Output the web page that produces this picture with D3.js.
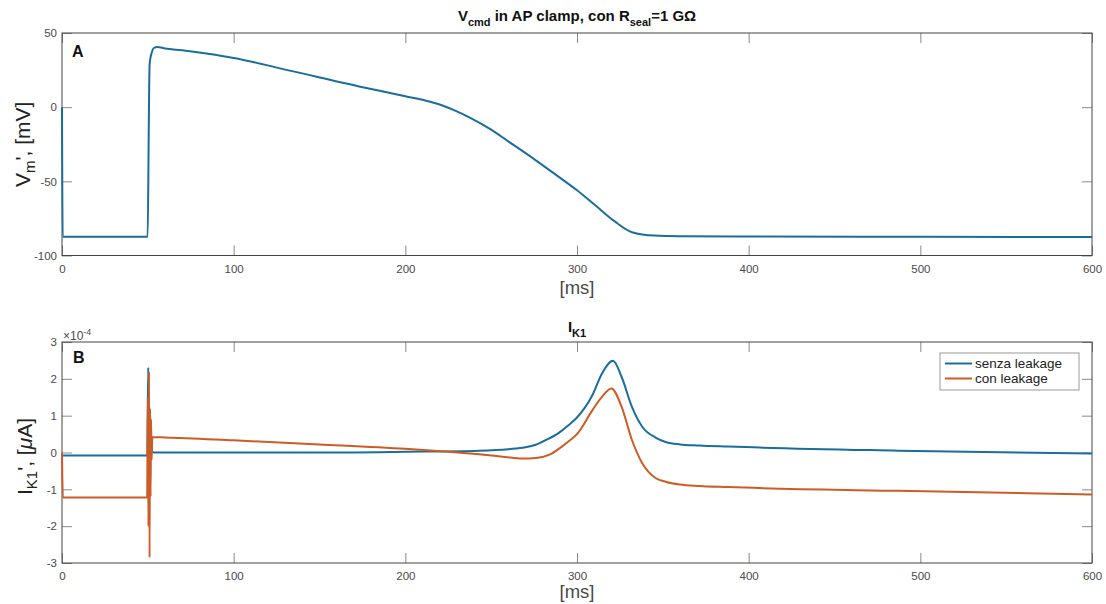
<!DOCTYPE html>
<html>
<head>
<meta charset="utf-8">
<script src="https://cdn.jsdelivr.net/npm/d3@7"></script>
<style>
    body { margin: 0; background: #ffffff; }
    svg { display: block; font-family: 'Liberation Sans', Arial, sans-serif; }
</style>
</head>
<body>
<svg id="chart" width="1106" height="604"></svg>
<script>
// Panel A: command voltage (ms, mV)
const timeA = [0, 0.4, 49.9, 50.5, 51.0, 51.5, 52.2, 53.5, 55.5, 60, 70, 85, 100, 134, 173, 200,
    214, 222, 230, 237, 250, 260, 275, 287, 300, 311, 322, 332, 345, 360, 405, 500, 600];
const vmA = [0, -87.4, -87.4, -20, 28, 33, 36.5, 39.9, 40.6, 39.6, 38.3, 36, 33.2, 24.3, 14.0, 7.4,
    3.8, 1.0, -2.8, -6.7, -15.2, -23.1, -35, -45, -56, -66.5, -77, -84.3, -86.6, -87.0, -87.2, -87.4, -87.6];

// Panel B: I_K1, values in units of 1e-4 µA
const timeSenza = [0, 49.7, 50.2, 50.9, 51.6, 52.4, 53.5, 100, 155, 200, 243, 260, 270, 276, 282, 289, 295, 300, 309,
    314.5, 321, 326, 332, 338, 346, 352, 360, 371, 388, 487, 600];
const iSenza = [-0.08, -0.08, 2.31, -0.8, 0.35, 0.05, 0.0, 0.0, 0.0, 0.02, 0.05, 0.09, 0.14, 0.21, 0.34, 0.52, 0.74, 0.95, 1.56,
    2.14, 2.49, 2.05, 1.24, 0.70, 0.40, 0.28, 0.22, 0.19, 0.16, 0.05, -0.03];

const timeCon = [0, 0.5, 49.6, 50.0, 50.35, 50.7, 51.0, 51.3, 51.6, 51.9, 52.2, 52.6, 60, 100, 150, 200,
    225, 243, 258, 268, 276, 284, 290, 295, 300, 309, 314.5, 320, 326, 332, 338, 346, 352, 360, 371, 388, 487, 600];
const iCon = [0, -1.22, -1.22, 1.5, -2.0, 2.2, -2.85, 1.2, -1.2, 0.9, -0.2, 0.42, 0.41, 0.33, 0.22, 0.10,
    0.02, -0.05, -0.12, -0.165, -0.15, -0.06, 0.12, 0.30, 0.50, 1.15, 1.51, 1.74, 1.24, 0.34, -0.29, -0.70, -0.80, -0.87, -0.91, -0.94, -1.04, -1.14];

const xTicks = [0, 100, 200, 300, 400, 500, 600];
const yTicksA = [-100, -50, 0, 50];
const yTicksB = [-3, -2, -1, 0, 1, 2, 3];
const seriesNames = ['senza leakage', 'con leakage'];

const BLUE = '#1b6e9c';
const ORANGE = '#cc5b24';
const AXIS = '#444444';

const svg = d3.select('#chart');
const left = 62, right = 1092;

const x = d3.scaleLinear().domain([0, 600]).range([left, right]);
const plainNumber = (d) => String(d);

function drawFrame(y, yTicks, top, bottom) {
    const g = svg.append('g');

    const bottomAxis = g.append('g')
        .attr('transform', `translate(0,${bottom})`)
        .call(d3.axisBottom(x).tickValues(xTicks).tickSize(-10).tickPadding(9).tickFormat(plainNumber));
    const topAxis = g.append('g')
        .attr('transform', `translate(0,${top})`)
        .call(d3.axisTop(x).tickValues(xTicks).tickSize(-10).tickFormat(''));
    const leftAxis = g.append('g')
        .attr('transform', `translate(${left},0)`)
        .call(d3.axisLeft(y).tickValues(yTicks).tickSize(-10).tickPadding(5).tickFormat(plainNumber));
    const rightAxis = g.append('g')
        .attr('transform', `translate(${right},0)`)
        .call(d3.axisRight(y).tickValues(yTicks).tickSize(-10).tickFormat(''));

    [bottomAxis, topAxis, leftAxis, rightAxis].forEach((axis) => {
        axis.select('.domain').remove();
        axis.selectAll('line').attr('stroke', '#8a8a8a').attr('stroke-width', 1);
        axis.selectAll('text')
            .attr('fill', '#4a4a4a')
            .style('font-size', '11.5px')
            .style('font-family', "'Liberation Sans', Arial, sans-serif");
    });

    g.append('rect')
        .attr('x', left)
        .attr('y', top)
        .attr('width', right - left)
        .attr('height', bottom - top)
        .attr('fill', 'none')
        .attr('stroke', AXIS)
        .attr('stroke-width', 1);
    return g;
}

function drawSeries(times, values, y, color) {
    const line = d3.line()
        .x((d) => x(d[0]))
        .y((d) => y(d[1]))
        .curve(d3.curveMonotoneX);
    svg.append('path')
        .datum(times.map((t, i) => [t, values[i]]))
        .attr('d', line)
        .attr('fill', 'none')
        .attr('stroke', color)
        .attr('stroke-width', 2)
        .attr('stroke-linejoin', 'round');
}

// titles with subscripts
function titleWithSubs(cx, baseline, parts) {
    const t = svg.append('text')
        .attr('x', cx)
        .attr('y', baseline)
        .attr('text-anchor', 'middle')
        .style('font-weight', 'bold')
        .style('font-size', '15px')
        .attr('fill', '#111');
    parts.forEach(([str, shift]) => {
        t.append('tspan')
            .attr('dy', shift === 'down' ? 4.5 : shift === 'up' ? -4.5 : 0)
            .style('font-size', shift === 'down' ? '11px' : '15px')
            .text(str);
    });
    return t;
}

// ---------- Panel A ----------
const topA = 33, bottomA = 255.5;
const yA = d3.scaleLinear().domain([-100, 50]).range([bottomA, topA]);
drawFrame(yA, yTicksA, topA, bottomA);
drawSeries(timeA, vmA, yA, BLUE);

titleWithSubs((left + right) / 2, 21, [
    ['V', null], ['cmd', 'down'], [' in AP clamp, con R', 'up'], ['seal', 'down'], ['=1 GΩ', 'up']
]);

svg.append('text')
    .attr('x', 72).attr('y', 57)
    .style('font-weight', 'bold').style('font-size', '16px')
    .attr('fill', '#111')
    .text('A');

svg.append('text')
    .attr('x', (left + right) / 2).attr('y', 294)
    .attr('text-anchor', 'middle')
    .style('font-size', '18.5px')
    .attr('fill', '#4a4a4a')
    .text('[ms]');

const ylabA = svg.append('text')
    .attr('transform', `translate(30,${(topA + bottomA) / 2}) rotate(-90)`)
    .attr('text-anchor', 'middle')
    .style('font-size', '21px')
    .attr('fill', '#222');
ylabA.append('tspan').text('V');
ylabA.append('tspan').attr('dy', 5).style('font-size', '15px').text('m');
ylabA.append('tspan').attr('dy', -5).text("', [mV]");

// ---------- Panel B ----------
const topB = 342, bottomB = 563;
const yB = d3.scaleLinear().domain([-3, 3]).range([bottomB, topB]);
drawFrame(yB, yTicksB, topB, bottomB);
drawSeries(timeSenza, iSenza, yB, BLUE);
drawSeries(timeCon, iCon, yB, ORANGE);

titleWithSubs((left + right) / 2, 332, [['I', null], ['K1', 'down']]);

svg.append('text')
    .attr('x', 73).attr('y', 363)
    .style('font-weight', 'bold').style('font-size', '16px')
    .attr('fill', '#111')
    .text('B');

const expo = svg.append('text')
    .attr('x', 63).attr('y', 340)
    .style('font-size', '12px')
    .attr('fill', '#4a4a4a');
expo.append('tspan').text('×10');
expo.append('tspan').attr('dy', -5).style('font-size', '9px').text('-4');

svg.append('text')
    .attr('x', (left + right) / 2).attr('y', 598)
    .attr('text-anchor', 'middle')
    .style('font-size', '18.5px')
    .attr('fill', '#4a4a4a')
    .text('[ms]');

const ylabB = svg.append('text')
    .attr('transform', `translate(32,${(topB + bottomB) / 2 + 4}) rotate(-90)`)
    .attr('text-anchor', 'middle')
    .style('font-size', '21px')
    .attr('fill', '#222');
ylabB.append('tspan').text('I');
ylabB.append('tspan').attr('dy', 5).style('font-size', '15px').text('K1');
ylabB.append('tspan').attr('dy', -5).text("', [");
ylabB.append('tspan').style('font-style', 'italic').text('μ');
ylabB.append('tspan').text('A]');

// legend
const legend = svg.append('g').attr('transform', 'translate(940,353)');
legend.append('rect')
    .attr('width', 139).attr('height', 37)
    .attr('fill', '#ffffff')
    .attr('stroke', '#9a9a9a')
    .attr('stroke-width', 1);
[BLUE, ORANGE].forEach((color, i) => {
    const cy = 10.5 + i * 15;
    legend.append('line')
        .attr('x1', 5).attr('x2', 32)
        .attr('y1', cy).attr('y2', cy)
        .attr('stroke', color).attr('stroke-width', 2);
    legend.append('text')
        .attr('x', 35).attr('y', cy)
        .attr('dy', '0.35em')
        .style('font-size', '13.5px')
        .attr('fill', '#222')
        .text(seriesNames[i]);
});
</script>
</body>
</html>
